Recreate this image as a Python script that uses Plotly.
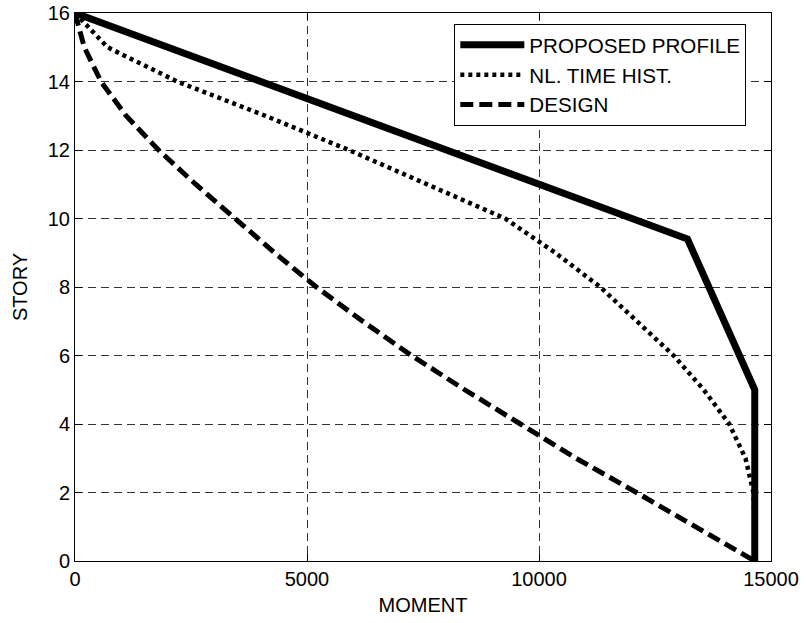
import plotly.graph_objects as go

# Story levels (0 = base, 16 = roof)
stories = list(range(16, -1, -1))

# Bending moment envelopes along the height
proposed_moment = [0, 13200, 14650, 14650]
proposed_story = [16, 9.4, 5, 0]

nl_time_hist = [0, 700, 2200, 4100, 5900, 7600, 9270, 10350, 11320,
                12110, 12900, 13550, 14100, 14450, 14620, 14650, 14650]

design = [0, 200, 560, 1100, 1800, 2600, 3450, 4300, 5200,
          6200, 7250, 8400, 9600, 10800, 12100, 13400, 14650]

x_ticks = [0, 5000, 10000, 15000]
y_ticks = [0, 2, 4, 6, 8, 10, 12, 14, 16]

FONT = "Liberation Sans, Arial, Helvetica, sans-serif"
FS = 20

fig = go.Figure()
fig.add_trace(go.Scatter(x=proposed_moment, y=proposed_story, mode="lines",
                         name="PROPOSED PROFILE", legendgroup="a",
                         line=dict(color="black", width=7)))
fig.add_trace(go.Scatter(x=nl_time_hist, y=stories, mode="lines",
                         name="NL. TIME HIST.", legendgroup="b",
                         line=dict(color="black", width=4.5, dash="4px,4px")))
fig.add_trace(go.Scatter(x=design, y=stories, mode="lines",
                         name="DESIGN", legendgroup="c",
                         line=dict(color="black", width=5, dash="13px,6px")))

axis_common = dict(
    showline=True, linecolor="black", linewidth=1, mirror="allticks",
    ticks="inside", ticklen=7, tickcolor="black", tickwidth=1,
    showgrid=True, gridcolor="#333333", gridwidth=1, griddash="8px,5px",
    zeroline=False, automargin=False,
    tickfont=dict(family=FONT, size=FS, color="black"),
)

fig.update_xaxes(range=[0, 15000], tickvals=x_ticks,
                 ticktext=[str(v) for v in x_ticks],
                 title=dict(text="MOMENT", font=dict(family=FONT, size=FS, color="black"),
                            standoff=8),
                 **axis_common)
fig.update_yaxes(range=[0, 16], tickvals=y_ticks,
                 ticktext=[str(v) for v in y_ticks],
                 title=dict(text="STORY", font=dict(family=FONT, size=FS, color="black"),
                            standoff=14),
                 **axis_common)

fig.update_layout(
    width=806, height=623,
    margin=dict(l=75, r=35, t=13, b=62),
    paper_bgcolor="white", plot_bgcolor="white",
    font=dict(family=FONT, size=FS, color="black"),
    showlegend=True,
    legend=dict(x=0.545, y=0.98, xanchor="left", yanchor="top",
                bgcolor="white", bordercolor="black", borderwidth=1,
                font=dict(family=FONT, size=20.6, color="black"),
                itemwidth=64, tracegroupgap=0),
)

fig.write_html("out.html")
